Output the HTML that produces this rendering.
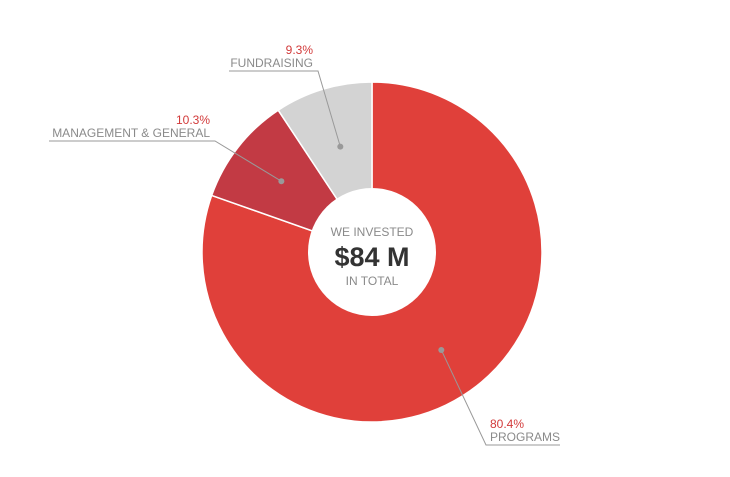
<!DOCTYPE html>
<html><head><meta charset="utf-8"><style>
body{margin:0;background:#fff;width:730px;height:472px;overflow:hidden}
text{font-family:"Liberation Sans",sans-serif}
</style></head><body>
<svg width="730" height="472">
<g id="slices"></g>
<circle cx="372" cy="252" r="64" fill="#fff"/>
<text x="372" y="236" text-anchor="middle" font-size="12" fill="#8a8a8a">WE INVESTED</text>
<text x="372" y="266" text-anchor="middle" font-size="27" font-weight="bold" fill="#333">$84 M</text>
<text x="372" y="285" text-anchor="middle" font-size="12" fill="#8a8a8a">IN TOTAL</text>
<g id="labels"></g>
</svg>
<script>
const categories=["PROGRAMS","MANAGEMENT & GENERAL","FUNDRAISING"];
const values=[80.4,10.3,9.3];
const valueLabels=["80.4%","10.3%","9.3%"];
const colors=["#e0403a","#c23a44","#d3d3d3"];
const NS="http://www.w3.org/2000/svg";
const cx=372,cy=252,R=170;
const total=values.reduce((a,b)=>a+b,0);
function ang(v){return v/total*2*Math.PI;}
function pt(a,r){return [cx+r*Math.sin(a),cy-r*Math.cos(a)];}
const g=document.getElementById('slices');
let a0=0;const mids=[];
values.forEach((v,i)=>{
 const a1=a0+ang(v);
 const p0=pt(a0,R),p1=pt(a1,R);
 const p=document.createElementNS(NS,'path');
 p.setAttribute('d',`M${cx},${cy}L${p0[0]},${p0[1]}A${R},${R} 0 ${a1-a0>Math.PI?1:0} 1 ${p1[0]},${p1[1]}Z`);
 p.setAttribute('fill',colors[i]);p.setAttribute('stroke','#fff');p.setAttribute('stroke-width','1.5');
 
 
 g.appendChild(p);
 mids.push((a0+a1)/2);a0=a1;
});
// label layouts: [dotRadius, anchorX(end of underline near slice), underlineY, textX, anchor, lineStartX, lineEndX]
const lay=[
 {r:120,lx:486,ly:445,x1:486,x2:560,tx:490,anchor:"start"},
 {r:115,lx:215,ly:141,x1:49,x2:215,tx:210,anchor:"end"},
 {r:110,lx:318,ly:71,x1:229,x2:318,tx:313,anchor:"end"}
];
const L=document.getElementById('labels');
categories.forEach((c,i)=>{
 const o=lay[i];const d=pt(mids[i],o.r);
 const ln=document.createElementNS(NS,'polyline');
 ln.setAttribute('points',`${d[0]},${d[1]} ${o.lx},${o.ly} ${o.lx===o.x1?o.x2:o.x1},${o.ly}`);
 ln.setAttribute('fill','none');ln.setAttribute('stroke','#999');ln.setAttribute('stroke-width','1');
 
 
 L.appendChild(ln);
 const dot=document.createElementNS(NS,'circle');
 dot.setAttribute('cx',d[0]);dot.setAttribute('cy',d[1]);dot.setAttribute('r','3');dot.setAttribute('fill','#999');
 
 
 L.appendChild(dot);
 const t1=document.createElementNS(NS,'text');
 t1.setAttribute('x',o.tx);t1.setAttribute('y',o.ly-17);t1.setAttribute('text-anchor',o.anchor);
 t1.setAttribute('font-size','12');t1.setAttribute('fill','#d23a3a');t1.textContent=valueLabels[i];
 
 
 L.appendChild(t1);
 const t2=document.createElementNS(NS,'text');
 t2.setAttribute('x',o.tx);t2.setAttribute('y',o.ly-4);t2.setAttribute('text-anchor',o.anchor);
 t2.setAttribute('font-size','12');t2.setAttribute('fill','#8a8a8a');t2.textContent=c;
 
 
 L.appendChild(t2);
});
</script>
</body></html>
